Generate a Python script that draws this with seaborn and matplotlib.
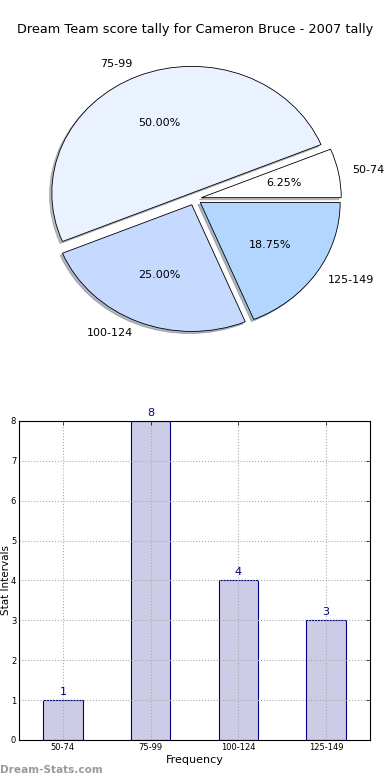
import matplotlib
matplotlib.use("Agg")
import matplotlib.pyplot as plt
import seaborn as sns
import pandas as pd

# Data
categories = ["50-74", "75-99", "100-124", "125-149"]
counts = [1, 8, 4, 3]
pie_colors = ["#FFFFFF", "#EBF2FF", "#C6D9FF", "#B3D6FF"]
title = "Dream Team score tally for Cameron Bruce - 2007 tally"

sns.set_theme(style="white")
plt.rcParams['font.family'] = ['DejaVu Sans']
plt.rcParams['text.color'] = 'black'
plt.rcParams['axes.labelcolor'] = 'black'
plt.rcParams['xtick.color'] = 'black'
plt.rcParams['ytick.color'] = 'black'

fig = plt.figure(figsize=(3.9, 7.8), dpi=100)

# Pie chart
ax1 = fig.add_axes([0.05, 0.542, 0.897, 0.406])
wedges, texts, autotexts = ax1.pie(
    counts, labels=categories, colors=pie_colors, autopct='%1.2f%%',
    explode=[0.05] * len(counts),
    shadow=dict(ox=-0.012, oy=-0.012, shade=0.5),
    startangle=0,
    wedgeprops=dict(edgecolor='black', linewidth=0.6),
    textprops=dict(fontsize=8, color='black'))
for t in texts:
    x, y = t.get_position()
    t.set_horizontalalignment('left' if x > 0 else 'right')
ax1.set_aspect('auto')
ax1.set_xlim(-1.25, 1.25)
ax1.set_ylim(-1.25, 1.25)
ax1.axis('off')
fig.text(0.5, 1 - 30 / 780, title, ha='center', va='center', fontsize=9.25, color='black')

# Bar chart
ax2 = fig.add_axes([0.0487, 0.0513, 0.9, 0.409])
df = pd.DataFrame({"interval": categories, "count": counts})
sns.barplot(data=df, x="interval", y="count", ax=ax2, color="#CCCCE6",
            saturation=1, width=0.45, edgecolor="#000080", linewidth=0.8)
ax2.set_ylim(0, 8)
ax2.set_xlim(-0.5, 3.5)
for i, v in enumerate(counts):
    ax2.text(i, v + 0.08, str(v), ha='center', va='bottom', fontsize=8, color='#000080')
ax2.grid(True, linestyle=':', color='#AAAAAA', linewidth=0.8)
ax2.set_axisbelow(False)
ax2.tick_params(axis='both', labelsize=6, direction='in', top=True, right=True,
                length=3, width=0.5, pad=2)
for s in ax2.spines.values():
    s.set_color('black')
    s.set_linewidth(0.8)
    s.set_zorder(6)
ax2.set_xlabel("Frequency", fontsize=8, labelpad=2)
ax2.set_ylabel("Stat Intervals", fontsize=7.5, va='top')
ax2.yaxis.set_label_coords(-0.052, 0.5)

fig.text(0.0, 1 - 770 / 780, "Dream-Stats.com", ha='left', va='center',
         fontsize=7.6, color='#9A9A9A', fontweight='bold')

fig.savefig("out.png", dpi=100)
